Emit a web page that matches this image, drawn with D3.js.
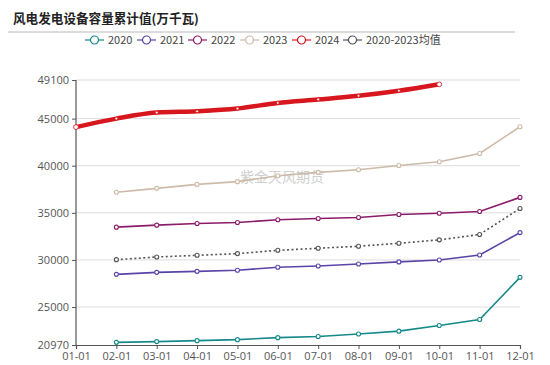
<!DOCTYPE html>
<html><head><meta charset="utf-8">
<script src="https://cdn.jsdelivr.net/npm/d3@7"></script>
<style>
html,body{margin:0;padding:0;background:#fff;}
svg{display:block;font-family:"Noto Sans","Noto Sans CJK SC",sans-serif;}
</style></head>
<body><svg id="c" width="550" height="365"></svg>
<script>
const months = ["01-01","02-01","03-01","04-01","05-01","06-01","07-01","08-01","09-01","10-01","11-01","12-01"];
const yTicks = [20970,25000,30000,35000,40000,45000,49100];
const seriesNames = ["2020","2021","2022","2023","2024","2020-2023均值"];
const colors = ["#16898a","#5a44a8","#8c1c6a","#cdbba8","#d8161e","#555555"];
const v2020 = [null,21250,21330,21430,21540,21750,21880,22130,22440,23040,23670,28150];
const v2021 = [null,28470,28680,28790,28900,29220,29360,29570,29790,30000,30530,32900];
const v2022 = [null,33480,33690,33870,33970,34260,34400,34500,34820,34960,35140,36640];
const v2023 = [null,37180,37600,38020,38310,38940,39290,39580,40030,40420,41300,44140];
const v2024 = [44100,45000,45640,45780,46070,46670,47030,47420,47950,48640,null,null];
const vAvg  = [null,30030,30310,30490,30670,31020,31240,31450,31770,32130,32700,35460];
const allSeries = [v2020,v2021,v2022,v2023,v2024,vAvg];

const svg = d3.select("#c");
const L=76, R=520, T=80, B=345;
const x = d3.scalePoint().domain(months).range([L,R]);
const y = d3.scaleLinear().domain([20970,49100]).range([B,T]);

// title
svg.append("text").attr("x",13).attr("y",23).attr("font-size",12.6).attr("font-weight","bold")
  .attr("font-family","'Noto Sans CJK SC',sans-serif").attr("fill","#222").text("风电发电设备容量累计值(万千瓦)");
svg.append("line").attr("x1",8).attr("x2",515).attr("y1",32).attr("y2",32).attr("stroke","#d0d0d0").attr("stroke-width",1.5);

// legend
const legX = [85,137,188,240,292,343];
seriesNames.forEach((n,i)=>{
  const g = svg.append("g").attr("transform",`translate(${legX[i]},40)`);
  g.append("line").attr("x1",0).attr("x2",19).attr("y1",0).attr("y2",0).attr("stroke",colors[i]).attr("stroke-width",1.2);
  g.append("circle").attr("cx",9.5).attr("cy",0).attr("r",4).attr("fill","#fff").attr("stroke",colors[i]).attr("stroke-width",1.2);
  g.append("text").attr("x",23).attr("y",4).attr("font-size",11).attr("fill","#444")
   .attr("font-family","'Noto Sans CJK SC',sans-serif").text(n);
});

// grid
svg.append("g").selectAll("line").data(yTicks.slice(1)).join("line")
  .attr("x1",L).attr("x2",R).attr("y1",d=>y(d)).attr("y2",d=>y(d))
  .attr("stroke","#dddddd").attr("stroke-width",1);

// watermark
svg.append("text").attr("x",240).attr("y",182).attr("font-size",14).attr("fill","#cfcfcf")
  .attr("font-family","'Noto Sans CJK SC',sans-serif").text("紫金天风期货");

// axes
const yAxis = svg.append("g").attr("transform",`translate(${L},0)`)
  .call(d3.axisLeft(y).tickValues(yTicks).tickFormat(d=>d).tickSize(4).tickPadding(3));
const xAxis = svg.append("g").attr("transform",`translate(0,${B})`)
  .call(d3.axisBottom(x).tickSize(4).tickPadding(3));
[yAxis,xAxis].forEach(a=>{
  a.select(".domain").attr("stroke","#555").attr("stroke-width",1.2);
  a.selectAll(".tick line").attr("stroke","#555");
  a.selectAll("text").attr("fill","#555").attr("font-size",11).attr("font-family","'Open Sans','Noto Sans',sans-serif");
});
yAxis.select(".domain").attr("d",`M0,${B}V${T}`);

// series
allSeries.forEach((vals,i)=>{
  const pts = months.map((m,j)=>({m,v:vals[j]})).filter(d=>d.v!=null);
  const is24 = i===4, isAvg = i===5;
  svg.append("path").datum(pts)
    .attr("d",d3.line().x(d=>x(d.m)).y(d=>y(d.v)).curve(is24?d3.curveMonotoneX:d3.curveLinear))
    .attr("fill","none").attr("stroke",colors[i])
    .attr("stroke-width",is24?4.5:1.6)
    .attr("stroke-dasharray",isAvg?"2,2.5":null)
    .attr("stroke-linecap",is24?"round":"butt");
  svg.append("g").selectAll("circle").data(pts).join("circle")
    .attr("cx",d=>x(d.m)).attr("cy",d=>y(d.v))
    .attr("r",(d,j)=>is24?((j===0||j===pts.length-1)?2.4:1.4):2).attr("fill","#fff")
    .attr("stroke",is24?colors[i]:colors[i]).attr("stroke-width",is24?0.8:1.1);
});
</script></body></html>
